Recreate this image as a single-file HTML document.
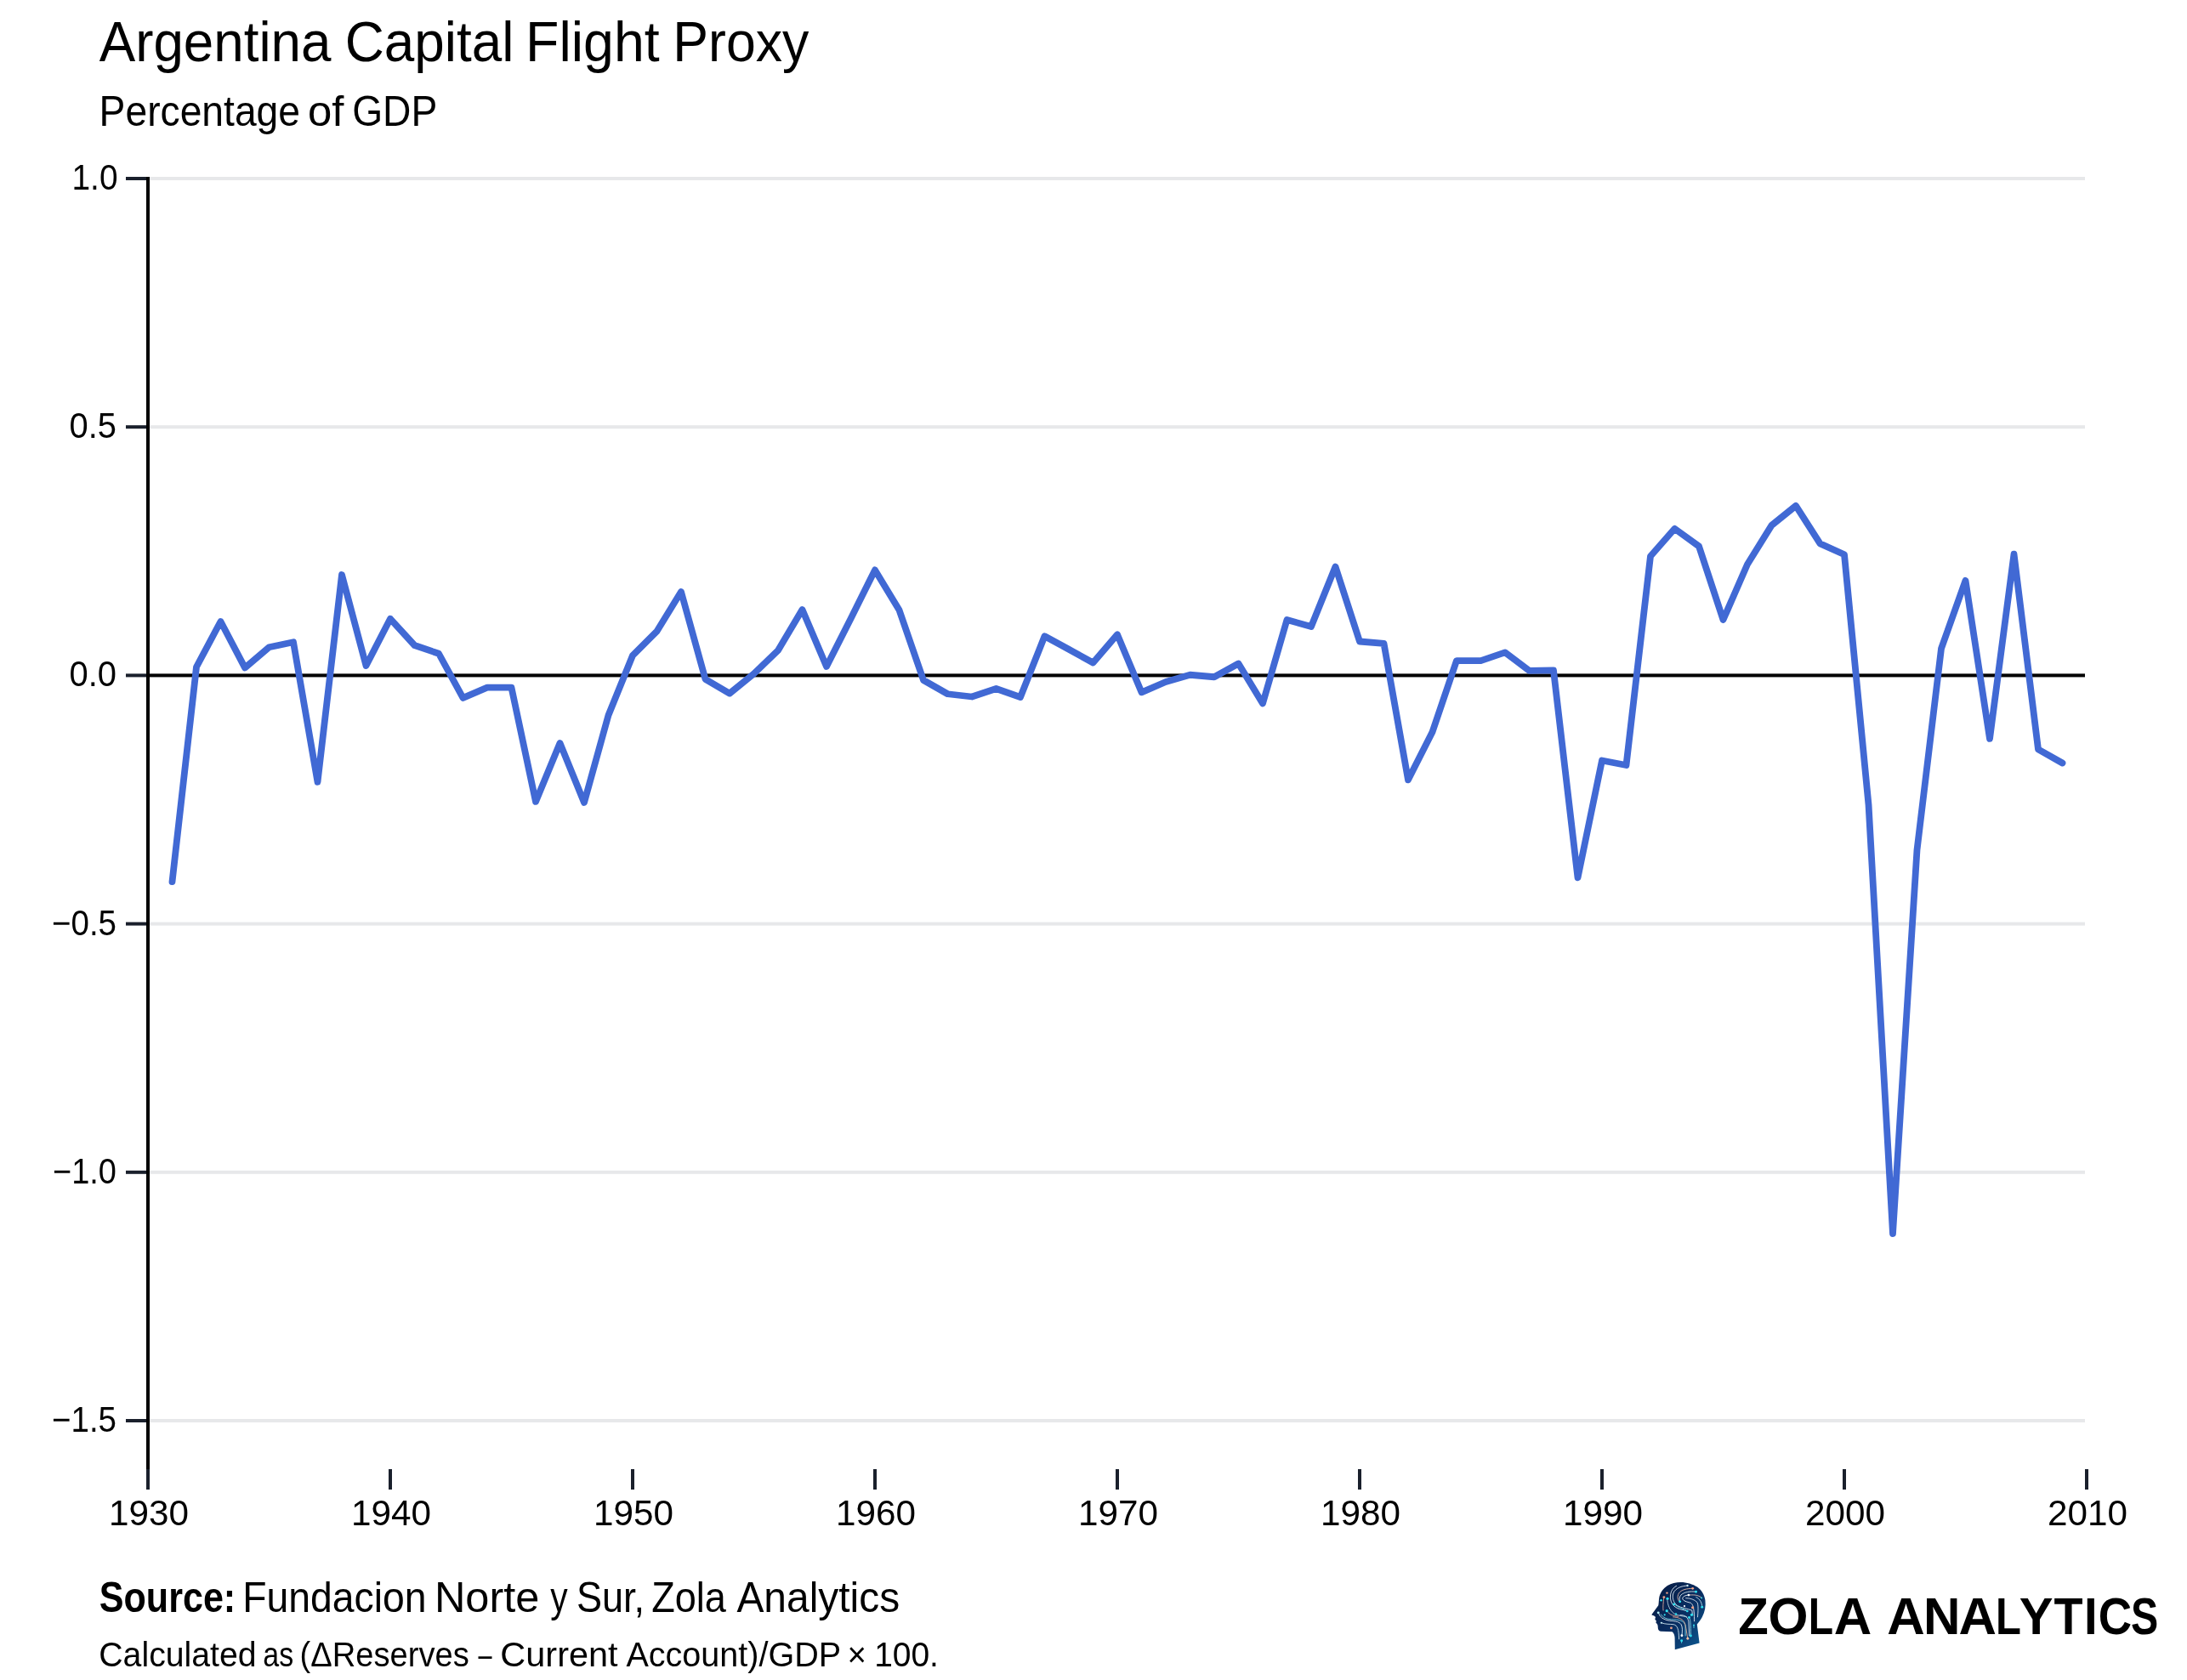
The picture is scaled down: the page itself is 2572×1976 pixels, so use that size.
<!DOCTYPE html>
<html><head><meta charset="utf-8"><title>Argentina Capital Flight Proxy</title>
<style>
html,body{margin:0;padding:0;background:#fff;}
body{width:2572px;height:1976px;overflow:hidden;position:relative;}
svg{position:absolute;left:0;top:0;will-change:transform;}
text{font-family:'Liberation Sans', Arial, sans-serif;fill:#000;}
.tk{font-size:42px;}
</style></head><body>
<svg width="2572" height="1976" viewBox="0 0 2572 1976">
<text transform="translate(116.70,72.2) scale(0.9657,1)" font-size="66">Argentina</text>
<text transform="translate(405.70,72.2) scale(0.9672,1)" font-size="66">Capital</text>
<text transform="translate(618.12,72.2) scale(0.9763,1)" font-size="66">Flight</text>
<text transform="translate(791.26,72.2) scale(0.9488,1)" font-size="66">Proxy</text>
<text transform="translate(116.60,148) scale(0.9248,1)" font-size="50">Percentage</text>
<text transform="translate(361.96,148) scale(1.0175,1)" font-size="50">of</text>
<text transform="translate(414.15,148) scale(0.9240,1)" font-size="50">GDP</text>
<rect x="176" y="208.0" width="2276" height="4" fill="#e7e8ea"/>
<rect x="176" y="500.2" width="2276" height="4" fill="#e7e8ea"/>
<rect x="176" y="1084.6" width="2276" height="4" fill="#e7e8ea"/>
<rect x="176" y="1376.8" width="2276" height="4" fill="#e7e8ea"/>
<rect x="176" y="1669.0" width="2276" height="4" fill="#e7e8ea"/>
<rect x="172" y="208" width="4" height="1524" fill="#000"/>
<rect x="174" y="792.4" width="2278" height="4" fill="#000"/>
<rect x="148" y="208.0" width="24" height="4" fill="#1a202c"/>
<rect x="148" y="500.2" width="24" height="4" fill="#1a202c"/>
<rect x="148" y="792.4" width="24" height="4" fill="#1a202c"/>
<rect x="148" y="1084.6" width="24" height="4" fill="#1a202c"/>
<rect x="148" y="1376.8" width="24" height="4" fill="#1a202c"/>
<rect x="148" y="1669.0" width="24" height="4" fill="#1a202c"/>
<rect x="172.0" y="1728" width="4" height="24" fill="#1a202c"/>
<rect x="457.0" y="1728" width="4" height="24" fill="#1a202c"/>
<rect x="742.0" y="1728" width="4" height="24" fill="#1a202c"/>
<rect x="1027.0" y="1728" width="4" height="24" fill="#1a202c"/>
<rect x="1312.0" y="1728" width="4" height="24" fill="#1a202c"/>
<rect x="1597.0" y="1728" width="4" height="24" fill="#1a202c"/>
<rect x="1882.0" y="1728" width="4" height="24" fill="#1a202c"/>
<rect x="2167.0" y="1728" width="4" height="24" fill="#1a202c"/>
<rect x="2452.0" y="1728" width="4" height="24" fill="#1a202c"/>
<text x="138.5" y="223.0" text-anchor="end" class="tk" textLength="54" lengthAdjust="spacingAndGlyphs">1.0</text>
<text x="137.0" y="515.2" text-anchor="end" class="tk" textLength="55.5" lengthAdjust="spacingAndGlyphs">0.5</text>
<text x="137.0" y="807.4" text-anchor="end" class="tk" textLength="55.5" lengthAdjust="spacingAndGlyphs">0.0</text>
<text x="137.0" y="1099.6" text-anchor="end" class="tk" textLength="76" lengthAdjust="spacingAndGlyphs">−0.5</text>
<text x="137.0" y="1391.8" text-anchor="end" class="tk" textLength="75" lengthAdjust="spacingAndGlyphs">−1.0</text>
<text x="137.0" y="1684.0" text-anchor="end" class="tk" textLength="76" lengthAdjust="spacingAndGlyphs">−1.5</text>
<text x="175.0" y="1794" text-anchor="middle" class="tk" textLength="94" lengthAdjust="spacingAndGlyphs">1930</text>
<text x="460.0" y="1794" text-anchor="middle" class="tk" textLength="94" lengthAdjust="spacingAndGlyphs">1940</text>
<text x="745.0" y="1794" text-anchor="middle" class="tk" textLength="94" lengthAdjust="spacingAndGlyphs">1950</text>
<text x="1030.0" y="1794" text-anchor="middle" class="tk" textLength="94" lengthAdjust="spacingAndGlyphs">1960</text>
<text x="1315.0" y="1794" text-anchor="middle" class="tk" textLength="94" lengthAdjust="spacingAndGlyphs">1970</text>
<text x="1600.0" y="1794" text-anchor="middle" class="tk" textLength="94" lengthAdjust="spacingAndGlyphs">1980</text>
<text x="1885.0" y="1794" text-anchor="middle" class="tk" textLength="94" lengthAdjust="spacingAndGlyphs">1990</text>
<text x="2170.0" y="1794" text-anchor="middle" class="tk" textLength="94" lengthAdjust="spacingAndGlyphs">2000</text>
<text x="2455.0" y="1794" text-anchor="middle" class="tk" textLength="94" lengthAdjust="spacingAndGlyphs">2010</text>
<polyline points="202.5,1037.10 231.0,784.50 259.5,731.00 288.0,785.40 316.5,761.25 345.0,755.25 373.5,919.75 402.0,676.00 430.5,783.00 459.0,727.80 487.5,759.00 516.0,768.75 544.5,820.90 573.0,808.70 601.5,808.70 630.0,942.90 658.5,874.00 687.0,944.00 715.5,841.25 744.0,771.00 772.5,742.50 801.0,696.00 829.5,798.80 858.0,815.60 886.5,792.50 915.0,765.00 943.5,717.00 972.0,784.00 1000.5,727.75 1029.0,670.40 1057.5,717.50 1086.0,800.00 1114.5,816.25 1143.0,819.50 1171.5,810.00 1200.0,820.00 1228.5,748.30 1257.0,763.75 1285.5,779.50 1314.0,746.30 1342.5,814.30 1371.0,802.00 1399.5,793.75 1428.0,796.25 1456.5,780.50 1485.0,827.50 1513.5,729.00 1542.0,737.00 1570.5,666.50 1599.0,754.50 1627.5,756.90 1656.0,917.30 1684.5,860.90 1713.0,777.10 1741.5,777.10 1770.0,767.40 1798.5,788.90 1827.0,788.40 1855.5,1032.40 1884.0,894.50 1912.5,900.00 1941.0,654.30 1969.5,621.80 1998.0,642.50 2026.5,729.00 2055.0,663.70 2083.5,617.90 2112.0,594.90 2140.5,639.40 2169.0,652.30 2197.5,946.30 2226.0,1451.00 2254.5,999.60 2283.0,762.90 2311.5,682.80 2340.0,868.90 2368.5,651.70 2397.0,881.30 2425.5,897.50" fill="none" stroke="#4169d4" stroke-width="7.8" stroke-linejoin="round" stroke-linecap="round"/>
<text transform="translate(116.83,1896) scale(0.8704,1)" font-size="49.5" font-weight="bold">Source:</text>
<text transform="translate(285.15,1896) scale(0.9364,1)" font-size="49.5">Fundacion</text>
<text transform="translate(510.92,1896) scale(1.0198,1)" font-size="49.5">Norte</text>
<text transform="translate(647.20,1896) scale(0.8240,1)" font-size="49.5">y</text>
<text transform="translate(677.88,1896) scale(0.9098,1)" font-size="49.5">Sur,</text>
<text transform="translate(766.19,1896) scale(0.9104,1)" font-size="49.5">Zola</text>
<text transform="translate(866.40,1896) scale(0.9684,1)" font-size="49.5">Analytics</text>
<text transform="translate(116.27,1959.5) scale(0.9638,1)" font-size="40.7">Calculated</text>
<text transform="translate(309.33,1959.5) scale(0.8350,1)" font-size="40.7">as</text>
<text transform="translate(352.53,1959.5) scale(0.9373,1)" font-size="40.7">(ΔReserves</text>
<text transform="translate(562.40,1959.5) scale(0.7087,1)" font-size="40.7">–</text>
<text transform="translate(588.36,1959.5) scale(1.0188,1)" font-size="40.7">Current</text>
<text transform="translate(736.40,1959.5) scale(0.9717,1)" font-size="40.7">Account)/GDP</text>
<text transform="translate(996.47,1959.5) scale(0.9444,1)" font-size="40.7">×</text>
<text transform="translate(1028.13,1959.5) scale(0.9575,1)" font-size="40.7">100.</text>
<defs><linearGradient id="hg" x1="0" y1="0" x2="1" y2="1"><stop offset="0" stop-color="#06183f"/><stop offset="0.55" stop-color="#0a2f63"/><stop offset="1" stop-color="#0d5d96"/></linearGradient></defs>
<path d="M1976.5,1861.1 C1983,1861 1991,1863.5 1996,1866.6 C2001,1870 2004.5,1876 2005.4,1882 C2006.3,1889 2005,1896 2001.8,1902 C2000,1905.5 1997.5,1908.5 1995.8,1910.5 L1998.6,1932.4 L1969.8,1940.2 L1969.6,1926.5 C1969.5,1923.5 1968.5,1920.5 1966.5,1919.2 L1953,1918.8 C1950.8,1918.3 1949.8,1916.8 1949.8,1914.5 L1949.6,1912 C1949.2,1910.4 1948.4,1909.6 1947.4,1908.6 L1947.9,1906.2 C1946.9,1905.6 1946.2,1905.2 1946.4,1904.3 L1947,1902 C1946.2,1900.8 1944.5,1900.2 1943,1899.8 C1942.3,1899.3 1942.5,1898.6 1943.2,1897.9 L1950.3,1888.3 C1950.9,1885 1950.8,1882 1951.2,1879.5 C1952,1874 1955.5,1868.5 1961,1865 C1965.5,1862.3 1971,1861.1 1976.5,1861.1 Z" fill="url(#hg)"/>
<g transform="translate(1935,1852) scale(0.05537)" fill="none" stroke-width="16" stroke-linecap="round">
<path d="M660,240 C560,290 520,400 535,520 C550,640 640,720 780,745 L900,772" stroke="#e6f0f7"/>
<path d="M895,235 C760,240 650,290 600,380 C560,470 590,600 680,660 C760,710 880,720 990,760 L1000,850" stroke="#dfe9f2"/>
<path d="M1005,295 C880,295 760,320 710,400 C670,470 690,560 735,578" stroke="#e8b9a8"/>
<path d="M1070,365 C950,350 830,370 760,430 C720,470 715,540 735,575" stroke="#d9ecf4"/>
<path d="M920,435 C840,440 790,470 790,510 C800,560 880,580 960,600 C1010,630 1040,700 1040,990" stroke="#eef3f7"/>
<path d="M1195,495 C1120,420 1000,430 920,435" stroke="#e9c3b4"/>
<path d="M860,500 C950,500 1050,530 1100,590 C1130,640 1120,800 1110,900" stroke="#d5dfe9"/>
<path d="M1205,690 C1205,600 1160,520 1080,480" stroke="#bfe3ee"/>
<path d="M280,810 C300,900 380,960 520,980 C650,990 720,1000 760,1060 C790,1110 790,1200 775,1290" stroke="#e4eef5"/>
<path d="M330,845 C380,920 450,950 600,955 C760,960 830,1000 850,1080 L850,1300" stroke="#7fdbe8"/>
<path d="M340,1025 C420,1060 520,1050 600,1060 C680,1080 710,1150 715,1370" stroke="#cfe5ee"/>
<path d="M590,900 C700,910 780,940 820,1000 C860,1060 870,1200 900,1360" stroke="#e9ad95"/>
<path d="M740,860 C850,860 900,900 920,1000 L935,1300" stroke="#e6eef4"/>
<path d="M930,910 C960,950 965,1050 965,1300" stroke="#8fd6e6"/>
<path d="M395,480 C380,600 370,700 380,760" stroke="#d9a89a"/>
<path d="M465,510 C470,650 520,760 610,830 C700,880 800,880 880,900" stroke="#b9d4e0"/>
<path d="M610,630 C700,700 800,720 890,775" stroke="#5fd8ea"/>
<path d="M455,770 C520,860 600,880 700,890" stroke="#e5a48f"/>
<path d="M1030,1075 L1030,1130" stroke="#5fd8ea"/>
<path d="M770,1405 L770,1450" stroke="#5fd8ea"/>
<circle cx="895" cy="235" r="21" fill="#cfeff5" stroke="none"/>
<circle cx="1005" cy="295" r="26" fill="#f2a287" stroke="none"/>
<circle cx="1075" cy="365" r="26" fill="#2fe0f0" stroke="none"/>
<circle cx="920" cy="435" r="26" fill="#ffffff" stroke="none"/>
<circle cx="1195" cy="495" r="17" fill="#2fe0f0" stroke="none"/>
<circle cx="735" cy="575" r="26" fill="#2fe0f0" stroke="none"/>
<circle cx="610" cy="630" r="26" fill="#2fe0f0" stroke="none"/>
<circle cx="830" cy="670" r="20" fill="#ffffff" stroke="none"/>
<circle cx="1005" cy="700" r="29" fill="#f2a287" stroke="none"/>
<circle cx="1205" cy="690" r="26" fill="#2fe0f0" stroke="none"/>
<circle cx="890" cy="775" r="23" fill="#2fe0f0" stroke="none"/>
<circle cx="455" cy="770" r="29" fill="#2fe0f0" stroke="none"/>
<circle cx="985" cy="855" r="29" fill="#2fe0f0" stroke="none"/>
<circle cx="650" cy="840" r="23" fill="#2fe0f0" stroke="none"/>
<circle cx="930" cy="910" r="26" fill="#2fe0f0" stroke="none"/>
<circle cx="275" cy="810" r="26" fill="#b5f0f5" stroke="none"/>
<circle cx="410" cy="855" r="20" fill="#2fe0f0" stroke="none"/>
<circle cx="340" cy="1025" r="20" fill="#c8f0f4" stroke="none"/>
<circle cx="550" cy="1135" r="26" fill="#f2a287" stroke="none"/>
<circle cx="1030" cy="1075" r="17" fill="#2fe0f0" stroke="none"/>
<circle cx="775" cy="1295" r="26" fill="#ffffff" stroke="none"/>
<circle cx="900" cy="1360" r="26" fill="#f5c4a5" stroke="none"/>
<circle cx="965" cy="1300" r="26" fill="#2fe0f0" stroke="none"/>
<circle cx="770" cy="1405" r="26" fill="#2fe0f0" stroke="none"/>
<circle cx="395" cy="480" r="26" fill="#f2a287" stroke="none"/>
<circle cx="460" cy="390" r="22" fill="#f2a287" stroke="none"/>
<circle cx="470" cy="510" r="29" fill="#2fe0f0" stroke="none"/>
<circle cx="335" cy="545" r="23" fill="#2fe0f0" stroke="none"/>
</g>
<text transform="translate(2044.29,1921.5) scale(0.953,1)" font-size="61" font-weight="bold">Z</text>
<text transform="translate(2079.62,1921.5) scale(0.991,1)" font-size="61" font-weight="bold">O</text>
<text transform="translate(2126.85,1921.5) scale(0.787,1)" font-size="61" font-weight="bold">L</text>
<text transform="translate(2156.68,1921.5) scale(1.010,1)" font-size="61" font-weight="bold">A</text>
<text transform="translate(2219.28,1921.5) scale(1.010,1)" font-size="61" font-weight="bold">A</text>
<text transform="translate(2261.96,1921.5) scale(0.986,1)" font-size="61" font-weight="bold">N</text>
<text transform="translate(2303.58,1921.5) scale(1.010,1)" font-size="61" font-weight="bold">A</text>
<text transform="translate(2346.99,1921.5) scale(0.803,1)" font-size="61" font-weight="bold">L</text>
<text transform="translate(2374.72,1921.5) scale(0.977,1)" font-size="61" font-weight="bold">Y</text>
<text transform="translate(2415.59,1921.5) scale(0.914,1)" font-size="61" font-weight="bold">T</text>
<text transform="translate(2451.11,1921.5) scale(0.922,1)" font-size="61" font-weight="bold">I</text>
<text transform="translate(2467.81,1921.5) scale(0.893,1)" font-size="61" font-weight="bold">C</text>
<text transform="translate(2506.12,1921.5) scale(0.792,1)" font-size="61" font-weight="bold">S</text>
</svg>
</body></html>
